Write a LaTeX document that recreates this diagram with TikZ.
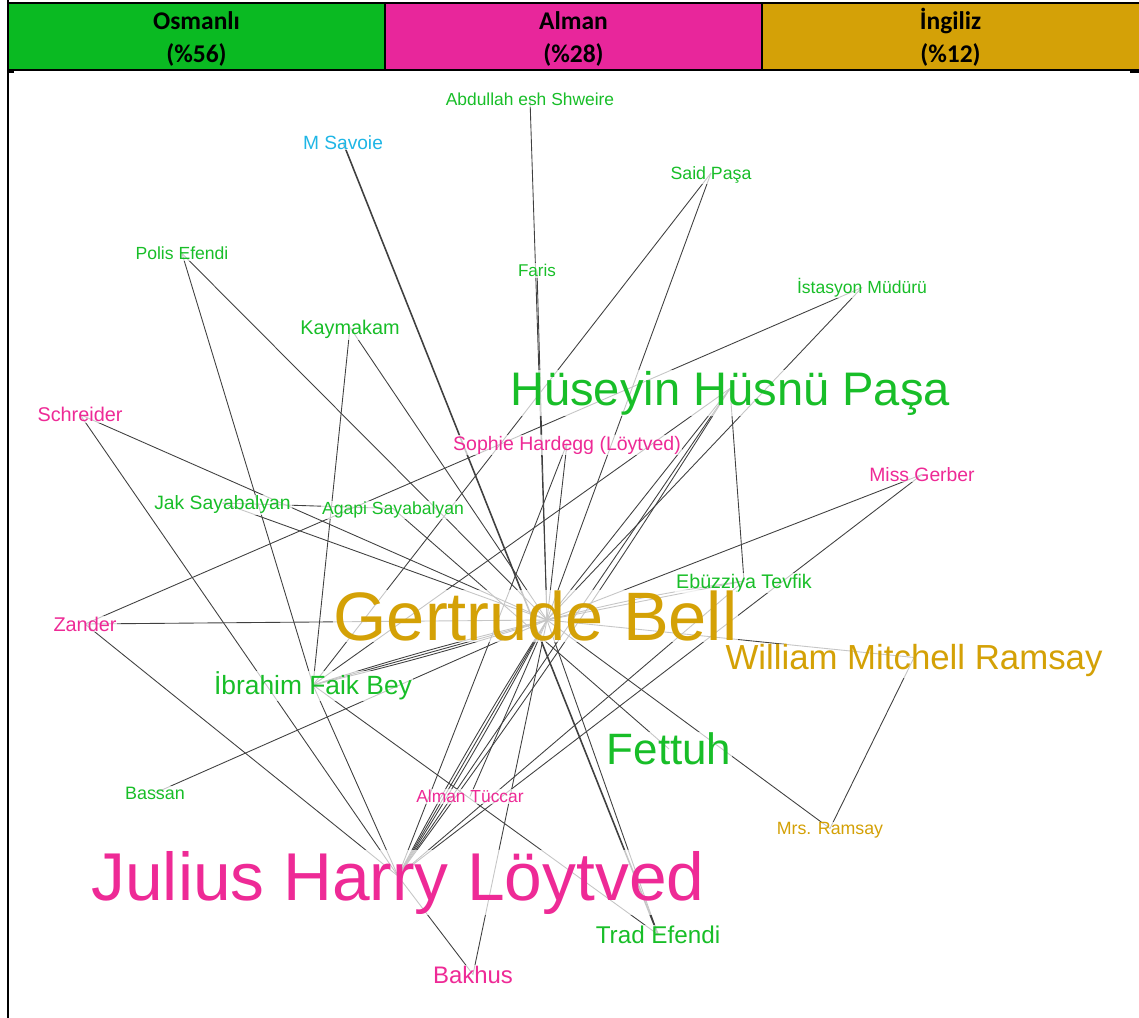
\documentclass[tikz,border=0pt]{standalone}
\usepackage{fontspec}
\setmainfont{Liberation Sans}
\newfontfamily\headfont{Carlito}

\definecolor{osmhead}{HTML}{0ABA22}
\definecolor{almhead}{HTML}{E8269B}
\definecolor{inghead}{HTML}{D4A107}
\definecolor{osmtext}{HTML}{18BE28}
\definecolor{almtext}{HTML}{EE2A96}
\definecolor{ingtext}{HTML}{D4A106}
\definecolor{othtext}{HTML}{1FB6E6}

\begin{document}
\begin{tikzpicture}[
        x=0.2mm, y=-0.2mm,
        link/.style={draw=black!75, line width=0.5pt},
        fsz/.style={font=\fontsize{#1}{#1}\selectfont, anchor=base, yshift=-0.358*#1pt},
        person/.style={fill=white, fill opacity=0.7, text opacity=1, inner sep=0.5pt},
        osm/.style={person, text=osmtext},
        alm/.style={person, text=almtext},
        ing/.style={person, text=ingtext},
        oth/.style={person, text=othtext},
        headtext/.style={font=\headfont\bfseries\fontsize{14.5}{14.5}\selectfont, anchor=base},
    ]
    \useasboundingbox (0,0) rectangle (1139,1018);

    % header table
    \fill[osmhead] (8,3) rectangle (385,70);
    \fill[almhead] (385,3) rectangle (762,70);
    \fill[inghead] (762,3) rectangle (1139,70);
    \draw[line width=0.6pt] (385,3) -- (385,70);
    \draw[line width=0.6pt] (762,3) -- (762,70);
    \draw[line width=1.2pt] (8,3) -- (1139,3);
    \draw[line width=1pt] (8,70) -- (1139,70);
    \draw[line width=1.2pt] (8,0) -- (8,1018);
    \draw[line width=0.8pt] (8,72) -- (14,72);
    \draw[line width=0.8pt] (1130,72) -- (1139,72);

    \node[headtext] (osm-head) at (196.5,29.5) {Osmanlı};
    \node[headtext] (osm-pct) at (196.5,62.5) {(\%56)};
    \node[headtext] (alm-head) at (573.5,29.5) {Alman};
    \node[headtext] (alm-pct) at (573.5,62.5) {(\%28)};
    \node[headtext] (ing-head) at (950.5,29.5) {İngiliz};
    \node[headtext] (ing-pct) at (950.5,62.5) {(\%12)};

    % vertices
    \coordinate (abd) at (530,99.5);
    \coordinate (sav) at (343,142.5);
    \coordinate (sai) at (711,173);
    \coordinate (pol) at (182,253.5);
    \coordinate (far) at (537,270.5);
    \coordinate (ist) at (862,287.5);
    \coordinate (kay) at (350,327.5);
    \coordinate (hus) at (730,388.5);
    \coordinate (sch) at (80,414.5);
    \coordinate (sop) at (567,443.5);
    \coordinate (ger) at (922,474.5);
    \coordinate (jak) at (222.5,503);
    \coordinate (aga) at (393,508.5);
    \coordinate (ebu) at (744,581);
    \coordinate (bel) at (547,620);
    \coordinate (zan) at (85,624);
    \coordinate (wmr) at (914,657.5);
    \coordinate (ibr) at (313,685);
    \coordinate (fet) at (669,749);
    \coordinate (bas) at (155,793);
    \coordinate (tuc) at (470,796.5);
    \coordinate (mrs) at (830,828.5);
    \coordinate (jul) at (398,876);
    \coordinate (tra) at (658,934.5);
    \coordinate (bak) at (473,974.5);

    % links
    \foreach \a/\b in {abd/bel, far/bel, sai/bel, ist/bel, kay/bel, pol/bel, sch/bel,
                       jak/bel, zan/bel, bas/bel, hus/bel, sop/bel, ger/bel, wmr/bel,
                       mrs/bel, tra/bel, tuc/bel, bak/bel, ibr/bel, ebu/bel, jul/bel,
                       sai/ibr, ist/zan, kay/ibr, pol/ibr, sch/jul, zan/jul,
                       sop/jul, hus/ebu, hus/ibr, hus/jul, ger/jul, ebu/jul, jak/aga,
                       aga/fet, ibr/jul, ibr/tra, bak/jul, mrs/wmr}
        \draw[link] (\a) -- (\b);
    \draw[link] (bel) to[bend left=2] (ibr);
    \draw[link] (bel) to[bend right=2] (ibr);
    \draw[link] (bel) to[bend left=2] (jul);
    \draw[link] (bel) to[bend right=2] (jul);
    \draw[link] (bel) to[bend left=3] (ebu);
    \draw[link] (hus) to[bend left=2] (jul);
    \draw[link, line width=0.9pt] (sav) -- (tra);

    % names
    \node[osm, fsz=9.9] (abd-txt) at (abd) {Abdullah esh Shweire};
    \node[oth, fsz=10.9] (sav-txt) at (sav) {M Savoie};
    \node[osm, fsz=10.1] (sai-txt) at (sai) {Said Paşa};
    \node[osm, fsz=10] (pol-txt) at (pol) {Polis Efendi};
    \node[osm, fsz=9.7] (far-txt) at (far) {Faris};
    \node[osm, fsz=10] (ist-txt) at (ist) {İstasyon Müdürü};
    \node[osm, fsz=11.3] (kay-txt) at (kay) {Kaymakam};
    \node[osm, fsz=26.8] (hus-txt) at (hus) {Hüseyin Hüsnü Paşa};
    \node[alm, fsz=11.3] (sch-txt) at (sch) {Schreider};
    \node[alm, fsz=11.1] (sop-txt) at (sop) {Sophie Hardegg (Löytved)};
    \node[alm, fsz=11] (ger-txt) at (ger) {Miss Gerber};
    \node[osm, fsz=11] (jak-txt) at (jak) {Jak Sayabalyan};
    \node[osm, fsz=10] (aga-txt) at (aga) {Agapi Sayabalyan};
    \node[osm, fsz=11.2] (ebu-txt) at (ebu) {Ebüzziya Tevfik};
    \node[ing, fsz=39] (bel-txt) at (535.5,616) {Gertrude Bell};
    \node[alm, fsz=11.3] (zan-txt) at (zan) {Zander};
    \node[ing, fsz=19.8] (wmr-txt) at (wmr) {William Mitchell Ramsay};
    \node[osm, fsz=15] (ibr-txt) at (ibr) {İbrahim Faik Bey};
    \node[osm, fsz=25] (fet-txt) at (fet) {Fettuh};
    \node[osm, fsz=10.2] (bas-txt) at (bas) {Bassan};
    \node[alm, fsz=9.9] (tuc-txt) at (tuc) {Alman Tüccar};
    \node[ing, fsz=10.1] (mrs-txt) at (mrs) {Mrs. Ramsay};
    \node[alm, fsz=38.5] (jul-txt) at (jul) {Julius Harry Löytved};
    \node[osm, fsz=13.8] (tra-txt) at (tra) {Trad Efendi};
    \node[alm, fsz=13.6] (bak-txt) at (bak) {Bakhus};
\end{tikzpicture}
\end{document}
